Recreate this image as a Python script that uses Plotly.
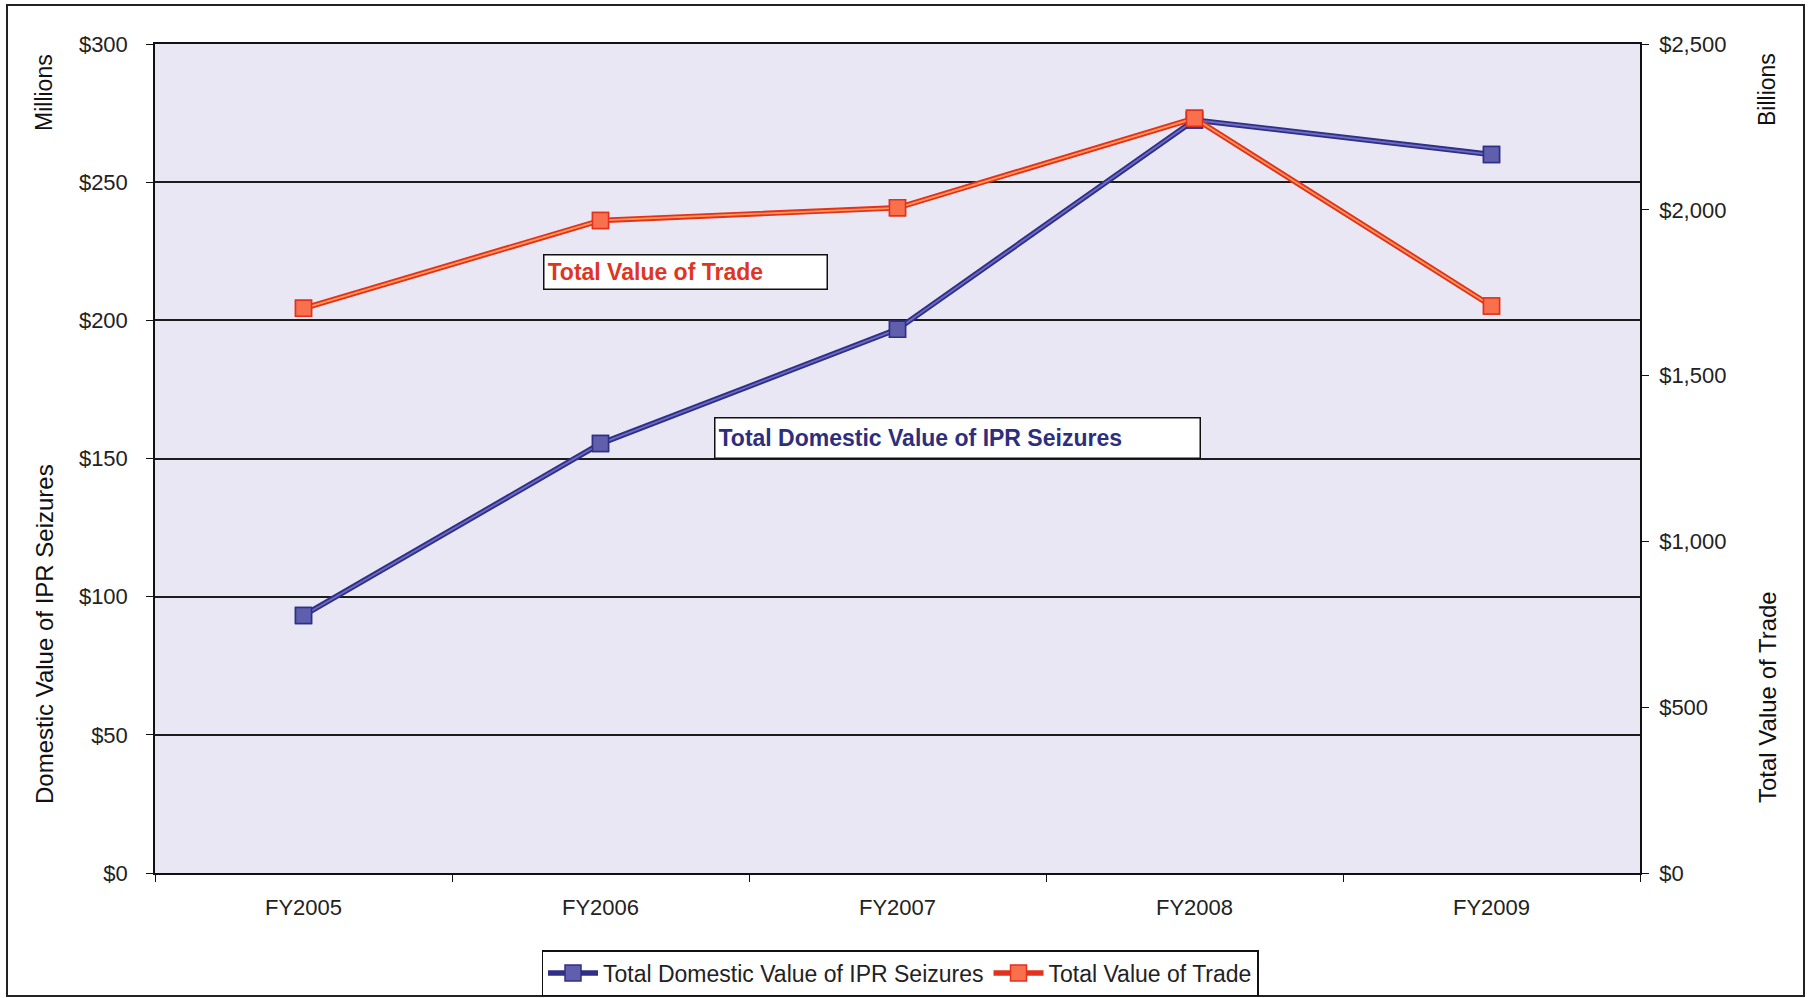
import plotly.graph_objects as go

# ---------------- data ----------------
categories = ["FY2005", "FY2006", "FY2007", "FY2008", "FY2009"]
ipr_seizures_millions = [93.2, 155.4, 196.8, 272.5, 260.0]
trade_value_billions = [1703, 1968, 2006, 2276, 1710]

left_tick_values = [0, 50, 100, 150, 200, 250, 300]
right_tick_values = [0, 500, 1000, 1500, 2000, 2500]
left_tick_labels = ["$" + format(v, ",") for v in left_tick_values]
right_tick_labels = ["$" + format(v, ",") for v in right_tick_values]

series_names = ["Total Domestic Value of IPR Seizures", "Total Value of Trade"]

# ---------------- style ----------------
W, H = 1808, 998
ML, MR, MT, MB = 155, 168, 44, 125
PW, PH = W - ML - MR, H - MT - MB

FONT = "Arial, Liberation Sans, sans-serif"
BLUE_DARK = "#2f2f86"
BLUE_MID = "#6b6bc6"
BLUE_FILL = "#5f5fae"
ORANGE_DARK = "#e2321e"
ORANGE_MID = "#ff9a55"
ORANGE_FILL = "#f8704c"


def px_x(x):
    return (x - ML) / PW


def px_y(y):
    return (H - MB - y) / PH


fig = go.Figure()

for vals, axis, dark, mid, fill, name in [
    (ipr_seizures_millions, "y", BLUE_DARK, BLUE_MID, BLUE_FILL, series_names[0]),
    (trade_value_billions, "y2", ORANGE_DARK, ORANGE_MID, ORANGE_FILL, series_names[1]),
]:
    fig.add_trace(go.Scatter(
        x=categories, y=vals, yaxis=axis, name=name, mode="lines+markers",
        line=dict(color=dark, width=5.5),
        marker=dict(symbol="square", size=16, color=fill, line=dict(color=dark, width=1.5)),
        hoverinfo="skip",
    ))
    fig.add_trace(go.Scatter(
        x=categories, y=vals, yaxis=axis, mode="lines", showlegend=False,
        line=dict(color=mid, width=1.8), hoverinfo="skip",
    ))
    fig.add_trace(go.Scatter(
        x=categories, y=vals, yaxis=axis, mode="markers", showlegend=False,
        marker=dict(symbol="square", size=16, color=fill, line=dict(color=dark, width=1.5)),
        hoverinfo="skip",
    ))

annotations = [
    # in-chart labels
    dict(text="<b>Total Value of Trade</b>", xref="paper", yref="paper",
         x=px_x(543), y=px_y(254), xanchor="left", yanchor="top",
         width=276, height=27, align="left", valign="middle",
         showarrow=False, bgcolor="white", bordercolor="#111", borderwidth=1.5, borderpad=3,
         font=dict(family=FONT, size=23, color="#e03522")),
    dict(text="<b>Total Domestic Value of IPR Seizures</b>", xref="paper", yref="paper",
         x=px_x(714), y=px_y(417), xanchor="left", yanchor="top",
         width=478, height=33, align="left", valign="middle",
         showarrow=False, bgcolor="white", bordercolor="#111", borderwidth=1.5, borderpad=3,
         font=dict(family=FONT, size=23, color="#2e2e7e")),
    # axis titles
    dict(text="Millions", xref="paper", yref="paper", x=px_x(44), y=px_y(93),
         xanchor="center", yanchor="middle", textangle=-90, showarrow=False,
         font=dict(family=FONT, size=23, color="#111")),
    dict(text="Domestic Value of IPR Seizures", xref="paper", yref="paper", x=px_x(44), y=px_y(634),
         xanchor="center", yanchor="middle", textangle=-90, showarrow=False,
         font=dict(family=FONT, size=24, color="#111")),
    dict(text="Billions", xref="paper", yref="paper", x=px_x(1767), y=px_y(90),
         xanchor="center", yanchor="middle", textangle=-90, showarrow=False,
         font=dict(family=FONT, size=23, color="#111")),
    dict(text="Total Value of Trade", xref="paper", yref="paper", x=px_x(1767), y=px_y(697),
         xanchor="center", yanchor="middle", textangle=-90, showarrow=False,
         font=dict(family=FONT, size=24, color="#111")),
]

shapes = [
    dict(type="rect", xref="paper", yref="paper",
         x0=px_x(7), x1=px_x(1804), y0=px_y(996), y1=px_y(5),
         line=dict(color="#222", width=2), fillcolor="rgba(0,0,0,0)", layer="above"),
]

axis_common = dict(
    showline=True, linecolor="#111", linewidth=1.5,
    ticks="outside", ticklen=7, tickcolor="#111", tickwidth=1.2,
    tickfont=dict(family=FONT, size=22, color="#222"),
    zeroline=False,
)

fig.update_layout(
    width=W, height=H,
    margin=dict(l=ML, r=MR, t=MT, b=MB, autoexpand=False),
    paper_bgcolor="white",
    plot_bgcolor="#e9e7f3",
    font=dict(family=FONT, color="#222"),
    showlegend=True,
    legend=dict(
        orientation="h", x=px_x(900), xanchor="center", y=px_y(950), yanchor="top",
        bordercolor="#111", borderwidth=1.5, bgcolor="white",
        font=dict(family=FONT, size=23, color="#222"),
        itemwidth=50, tracegroupgap=0,
    ),
    xaxis=dict(
        type="category", tickson="boundaries", showgrid=False, mirror=True,
        range=[-0.5, len(categories) - 0.5], ticklabelstandoff=14, **axis_common,
    ),
    yaxis=dict(
        range=[0, 300], tickvals=left_tick_values, ticktext=left_tick_labels,
        showgrid=True, gridcolor="#1c1c1c", gridwidth=1.5, ticklabelstandoff=14,
        **axis_common,
    ),
    yaxis2=dict(
        overlaying="y", side="right", range=[0, 2500],
        tickvals=right_tick_values, ticktext=right_tick_labels,
        showgrid=False, ticklabelstandoff=6, **axis_common,
    ),
    annotations=annotations,
    shapes=shapes,
)

fig.write_html("out.html")
